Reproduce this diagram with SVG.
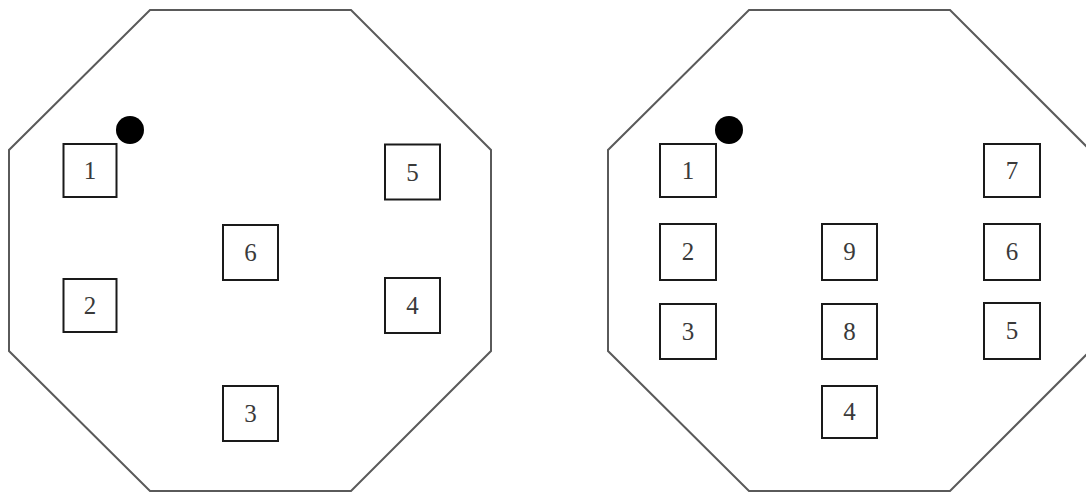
<svg xmlns="http://www.w3.org/2000/svg" width="1086" height="493" viewBox="0 0 1086 493">
<style>
.oct{fill:none;stroke:#5a5a5a;stroke-width:2}
.box{fill:#fff;stroke:#1a1a1a;stroke-width:2}
.lbl{font-family:"Liberation Serif",serif;font-size:25px;fill:#3a3a3a;text-anchor:middle}
.dot{fill:#000}
</style>
<rect width="1086" height="493" fill="#fff"/>
<g id="left-octagon">
<polygon class="oct" points="150,10 351,10 491,150 491,351 351,491 150,491 9,351 9,150"/>
<circle class="dot" cx="130" cy="130" r="14"/>
</g>
<g id="right-octagon">
<polygon class="oct" points="749,10 950,10 1090,150 1090,351 950,491 749,491 608,351 608,150"/>
<circle class="dot" cx="729" cy="130" r="14"/>
</g>
<g id="connectors"></g>
<g id="L1"><rect class="box" x="63.5" y="144" width="53" height="53"/><text class="lbl" x="90" y="179">1</text></g>
<g id="L2"><rect class="box" x="63.5" y="279" width="53" height="53"/><text class="lbl" x="90" y="314">2</text></g>
<g id="L6"><rect class="box" x="223" y="225" width="55" height="55"/><text class="lbl" x="250.5" y="261">6</text></g>
<g id="L3"><rect class="box" x="223" y="386" width="55" height="55"/><text class="lbl" x="250.5" y="422">3</text></g>
<g id="L5"><rect class="box" x="385" y="144.5" width="55" height="55"/><text class="lbl" x="412.5" y="180.5">5</text></g>
<g id="L4"><rect class="box" x="385" y="278" width="55" height="55"/><text class="lbl" x="412.5" y="314">4</text></g>
<g id="R1"><rect class="box" x="660" y="144" width="56" height="53"/><text class="lbl" x="688" y="179">1</text></g>
<g id="R2"><rect class="box" x="660" y="224" width="56" height="56"/><text class="lbl" x="688" y="260">2</text></g>
<g id="R3"><rect class="box" x="660" y="304" width="56" height="55"/><text class="lbl" x="688" y="340">3</text></g>
<g id="R9"><rect class="box" x="822" y="224" width="55" height="56"/><text class="lbl" x="849.5" y="260">9</text></g>
<g id="R8"><rect class="box" x="822" y="304" width="55" height="55"/><text class="lbl" x="849.5" y="340">8</text></g>
<g id="R4"><rect class="box" x="822" y="386" width="55" height="52"/><text class="lbl" x="849.5" y="420">4</text></g>
<g id="R7"><rect class="box" x="984" y="144" width="56" height="53"/><text class="lbl" x="1012" y="179">7</text></g>
<g id="R6"><rect class="box" x="984" y="224" width="56" height="56"/><text class="lbl" x="1012" y="260">6</text></g>
<g id="R5"><rect class="box" x="984" y="303" width="56" height="56"/><text class="lbl" x="1012" y="339">5</text></g>
</svg>
